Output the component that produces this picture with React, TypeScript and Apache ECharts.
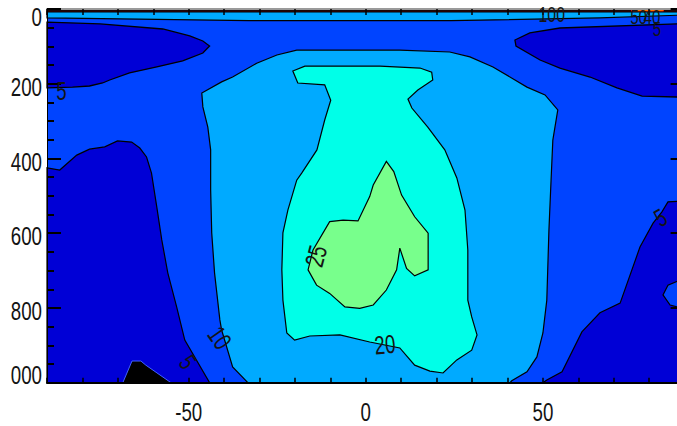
import React, { useEffect, useRef } from "react";
import * as echarts from "echarts";

// Axis ranges (latitude, depth)
const LAT_MIN = -90;
const LAT_MAX = 90;
const DEPTH_MIN = 0;
const DEPTH_MAX = 1000;

// Tick labels
const xTickValues = [-50, 0, 50];
const yTickValues = [0, 200, 400, 600, 800, 1000];

// Contour regions, vertices as [latitude, depth]
const surfaceTop = [[-90, 0], [90, 0], [90, 8], [-90, 8]];
const surfaceHot = [[75, 0], [84, 0], [84, 6], [75, 6]];
const surfaceBand = [[-90, 8], [90, 8], [90, 16], [66, 24], [24, 31], [-33, 31], [-90, 24]];
const topLeftLow = [[-90, 35], [-75, 40], [-57.3, 53.5], [-49.7, 72], [-46, 85.6], [-44.1, 99], [-46, 117.7], [-51.7, 139], [-59, 155], [-66.7, 171], [-72.3, 190], [-74.3, 198], [-78, 206], [-82.8, 209], [-90, 211]];
const topRightLow = [[90, 39], [54.8, 50.8], [46.3, 64], [42.1, 83], [42.4, 99], [49.2, 136.5], [54.8, 158], [63.3, 182], [70.9, 211], [78, 233], [90, 236]];
const bottomLeftLow = [[-90, 425], [-86.4, 431], [-81.6, 391], [-78, 375], [-73.7, 369], [-70.1, 353], [-66.1, 356], [-63.8, 372], [-61.9, 396], [-60.5, 439], [-59, 530], [-57.6, 618], [-55.9, 706], [-53.4, 797], [-51.1, 886], [-44.1, 1000], [-90, 1000]];
const bottomRightLow = [[50, 1000], [51.1, 993], [55.4, 971], [61, 864], [66.1, 813], [71.8, 787], [77.4, 637], [81.1, 573], [83.6, 543], [85.3, 516], [90, 514], [90, 1000]];
const rightBump = [[90, 720], [85.3, 739], [83.9, 765], [85.9, 792], [90, 803]];
const band10 = [[-33.3, 1000], [-37.6, 958], [-40.7, 859], [-41.2, 832], [-42.7, 706], [-43.5, 599], [-43.8, 484], [-43.8, 377], [-44.6, 316], [-46, 262], [-46.3, 225], [-40.7, 195], [-37.6, 182], [-30.8, 145], [-25.1, 123], [-19.5, 110], [9.6, 110], [23.7, 115], [29.4, 128], [35.9, 155], [45.5, 209], [50.6, 230], [54.2, 270], [52.8, 351], [52.3, 458], [51.7, 591], [51.1, 779], [50, 867], [48.3, 931], [45.5, 971], [41.2, 995], [40.7, 1000]];
const core20 = [[-20.6, 166], [-17.2, 153], [4, 153], [15.3, 158], [18.6, 169], [18.9, 190], [14.7, 217], [11.9, 241], [13, 265], [17.5, 316], [22.3, 377], [25.7, 452], [28, 538], [28.8, 645], [28.8, 779], [29.9, 824], [31.4, 872], [29.9, 913], [25.7, 939], [21.8, 974], [18.1, 969], [13.8, 953], [9.6, 907], [1.1, 891], [-7.3, 872], [-15.8, 875], [-20.1, 886], [-22.3, 867], [-23.4, 779], [-23.7, 698], [-23.4, 599], [-22, 538], [-19.5, 458], [-18.1, 439], [-13.8, 377], [-11.6, 297], [-9.9, 244], [-11.6, 203], [-19.2, 198]];
const core25 = [[5.8, 408], [7.9, 435], [10.1, 498], [13.8, 556], [17.6, 600], [17.6, 698], [13.8, 714], [11.5, 694], [9.6, 640], [8.7, 698], [5.8, 752], [2.1, 792], [-1.7, 801], [-5.9, 797], [-10.2, 761], [-13.9, 739], [-16.3, 698], [-14.9, 645], [-10.2, 569], [-6.4, 565], [-2.2, 567], [1.1, 502], [2.1, 471]];
const bottomNeg = [[-68.6, 1000], [-66, 942], [-63.5, 942], [-62.1, 953], [-55, 1000]];

// Contour labels
const labelText = ["5", "5", "10", "20", "25", "5", "100", "50", "40", "5"];
const labelLat = [-85.9, -50.3, -41.2, 5.4, -14.1, 83.2, 52.5, 77.0, 80.8, 82.2];
const labelDepth = [219, 945, 880, 899, 661, 559, 16, 19, 21, 51];

// Styles
const FONT = "'Liberation Sans', Arial, sans-serif";
const SQUEEZE = 0.72;
const C_DARK = "#0000d6";
const C_MED = "#0044ff";
const C_LIGHT = "#00aaff";
const C_CYAN = "#00ffe8";
const C_GREEN = "#78ff8c";
const labelAngles = [0, -55, -55, 5, 75, 30, 0, 0, 0, 0];
const labelSizes = [26, 25, 26, 26, 26, 25, 22, 21, 21, 21];

const layers = [
  { pts: surfaceTop, fill: "#1a0505", stroke: "#7a0000", lw: 1 },
  { pts: surfaceHot, fill: "#ff8c00", stroke: "#ff2000", lw: 1 },
  { pts: surfaceBand, fill: C_LIGHT, stroke: "#000", lw: 1.2 },
  { pts: topLeftLow, fill: C_DARK, stroke: "#000", lw: 1.3 },
  { pts: topRightLow, fill: C_DARK, stroke: "#000", lw: 1.3 },
  { pts: bottomLeftLow, fill: C_DARK, stroke: "#000", lw: 1.2 },
  { pts: bottomRightLow, fill: C_DARK, stroke: "#000", lw: 1.2 },
  { pts: rightBump, fill: C_MED, stroke: "#000", lw: 1.2 },
  { pts: band10, fill: C_LIGHT, stroke: "#000", lw: 1.2 },
  { pts: core20, fill: C_CYAN, stroke: "#000", lw: 1.2 },
  { pts: core25, fill: C_GREEN, stroke: "#000", lw: 1.2 },
  { pts: bottomNeg, fill: "#000", stroke: "#4060ff", lw: 1 },
];

const textStyle = (text: string, size: number, align: string, extra: any = {}) => ({
  text,
  fontSize: size,
  fontFamily: FONT,
  fill: "#141414",
  align,
  verticalAlign: "middle",
  ...extra,
});

export default function App() {
  const ref = useRef<HTMLDivElement>(null);
  useEffect(() => {
    if (!ref.current) return;
    const chart = echarts.init(ref.current, undefined, { renderer: "svg" });

    const polySeries = layers.map((layer) => ({
      type: "custom",
      coordinateSystem: "cartesian2d",
      silent: true,
      data: layer.pts,
      encode: { x: 0, y: 1 },
      renderItem: (params: any, api: any) => {
        if (params.dataIndex !== 0) return null;
        const points = layer.pts.map((p) => api.coord(p));
        return {
          type: "polygon",
          shape: { points },
          style: { fill: layer.fill, stroke: layer.stroke, lineWidth: layer.lw },
        };
      },
    }));

    // y tick labels, placed through the y scale
    const yLabelSeries = {
      type: "custom",
      coordinateSystem: "cartesian2d",
      silent: true,
      clip: false,
      z: 20,
      data: yTickValues.map((v) => [LAT_MIN, v]),
      encode: { x: 0, y: 1 },
      renderItem: (params: any, api: any) => {
        const v = yTickValues[params.dataIndex];
        const [px, py] = api.coord([LAT_MIN, v]);
        const dy = v === DEPTH_MIN ? 7.7 : v === DEPTH_MAX ? -7.7 : 3;
        const isLast = v === DEPTH_MAX;
        const s = String(v);
        return {
          type: "text",
          x: px - 5,
          y: py + dy,
          scaleX: SQUEEZE,
          style: isLast
            ? textStyle("{a|" + s.slice(0, 1) + "}{b|" + s.slice(1) + "}", 26, "right", {
                rich: {
                  a: { fontSize: 26, fontFamily: FONT, fill: "#141414", padding: [0, 30, 0, 0] },
                  b: { fontSize: 26, fontFamily: FONT, fill: "#141414" },
                },
              })
            : textStyle(s, 26, "right"),
        };
      },
    };

    // x tick labels
    const xLabelSeries = {
      type: "custom",
      coordinateSystem: "cartesian2d",
      silent: true,
      clip: false,
      z: 20,
      data: xTickValues.map((v) => [v, DEPTH_MAX]),
      encode: { x: 0, y: 1 },
      renderItem: (params: any, api: any) => {
        const v = xTickValues[params.dataIndex];
        const [px, py] = api.coord([v, DEPTH_MAX]);
        return {
          type: "text",
          x: px,
          y: py + 29,
          scaleX: SQUEEZE,
          style: textStyle(String(v), 26, "center"),
        };
      },
    };

    // contour labels
    const contourLabelSeries = {
      type: "custom",
      coordinateSystem: "cartesian2d",
      silent: true,
      clip: false,
      z: 15,
      data: labelText.map((_, i) => [labelLat[i], labelDepth[i]]),
      encode: { x: 0, y: 1 },
      renderItem: (params: any, api: any) => {
        const i = params.dataIndex;
        const [px, py] = api.coord([labelLat[i], labelDepth[i]]);
        return {
          type: "text",
          x: px,
          y: py,
          rotation: (labelAngles[i] * Math.PI) / 180,
          scaleX: SQUEEZE,
          style: textStyle(labelText[i], labelSizes[i], "center"),
        };
      },
    };

    const baseX = {
      type: "value",
      min: LAT_MIN,
      max: LAT_MAX,
      interval: 10,
      z: 10,
      axisLabel: { show: false },
      splitLine: { show: false },
    };
    const baseY = {
      type: "value",
      inverse: true,
      min: DEPTH_MIN,
      max: DEPTH_MAX,
      interval: 200,
      z: 10,
      axisLabel: { show: false },
      splitLine: { show: false },
      minorSplitLine: { show: false },
      axisTick: { show: true, inside: true, length: 14, lineStyle: { color: "#000", width: 2 } },
      minorTick: { show: true, splitNumber: 4, length: 7, lineStyle: { color: "#000", width: 2 } },
    };

    const option: any = {
      animation: false,
      grid: {
        left: 47,
        top: 9,
        width: 637.6,
        height: 373.7,
        show: true,
        backgroundColor: C_MED,
        borderWidth: 0,
        containLabel: false,
        outerBoundsMode: "none",
      },
      xAxis: [
        {
          ...baseX,
          position: "bottom",
          axisLine: { show: true, onZero: false, lineStyle: { color: "#000", width: 2 } },
          axisTick: { show: true, inside: true, length: 5, lineStyle: { color: "#000", width: 1.5 } },
        },
        {
          ...baseX,
          position: "top",
          axisLine: { show: true, onZero: false, lineStyle: { color: "#9a9a9a", width: 2 } },
          axisTick: { show: true, inside: true, length: 6, lineStyle: { color: "#000", width: 1.5 } },
        },
      ],
      yAxis: [
        {
          ...baseY,
          position: "left",
          axisLine: { show: true, onZero: false, lineStyle: { color: "#000", width: 1 } },
        },
        {
          ...baseY,
          position: "right",
          axisLine: { show: true, onZero: false, lineStyle: { color: "#000", width: 1 } },
        },
      ],
      series: [...polySeries, contourLabelSeries, yLabelSeries, xLabelSeries],
    };
    chart.setOption(option);
    return () => chart.dispose();
  }, []);

  return (
    <div style={{ position: "fixed", left: 0, top: 0, width: 677, height: 426, overflow: "hidden", background: "#fff" }}>
      <div ref={ref} style={{ width: 700, height: 426 }} />
    </div>
  );
}
